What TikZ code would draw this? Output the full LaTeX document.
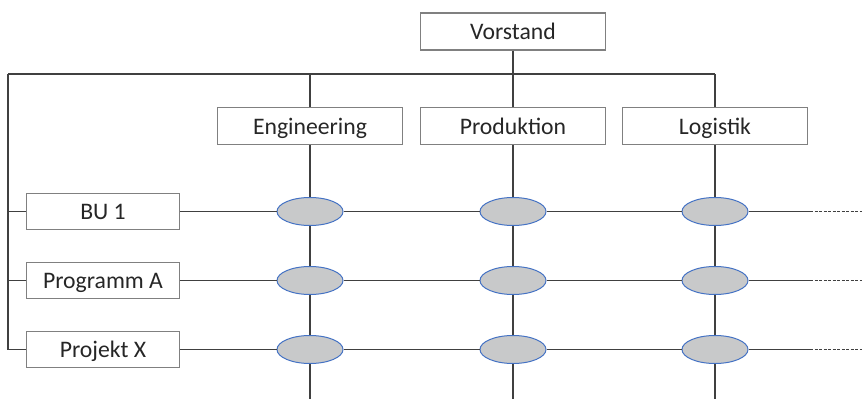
\documentclass[tikz,border=0pt]{standalone}
\usepackage{fontspec}
\setmainfont{Carlito}
\usetikzlibrary{positioning, shapes.geometric}
\definecolor{boxgray}{HTML}{808080}
\definecolor{linegray}{HTML}{404040}
\definecolor{cellfill}{HTML}{C8C9CA}
\definecolor{cellblue}{HTML}{4472C4}
\tikzset{
	x=1pt, y=-1pt, % pixel-like units, y grows downwards
	unit/.style={draw=boxgray, line width=1.2pt, minimum width=185pt, minimum height=37pt, inner sep=0pt, text height=20pt, text depth=4pt, text=black!85, font=\fontsize{23.7}{28}\selectfont}, % boxes of the line organisation
	proj/.style={unit, minimum width=153pt, minimum height=36pt}, % boxes of the project side
	cell/.style={ellipse, draw=cellblue, line width=1pt, fill=cellfill, minimum width=66pt, minimum height=28pt, inner sep=0pt}, % crossing points
	link/.style={draw=linegray, line width=1.5pt}, % connectors
}

\begin{document}
\begin{tikzpicture}[node distance=203pt, on grid]
		\useasboundingbox (0,0) rectangle (862,399);
		% Top of the organisation
		\node[unit] (vorstand) at (513,31.5) {Vorstand};
		\node[unit, below=94.5pt of vorstand] (prod) {Produktion};
		\node[unit, left=of prod] (eng) {Engineering};
		\node[unit, right=202pt of prod] (log) {Logistik};
		
		% Projects
		\node[proj] (bu) at (103,211.5) {BU 1};
		\node[proj, below=69pt of bu] (prog) {Programm A};
		\node[proj, below=69pt of prog] (projx) {Projekt X};
		
		% Crossing points
		\foreach \r in {bu, prog, projx}
		\foreach \c in {eng, prod, log}
		\node[cell] (\r-\c) at (\c |- \r) {};
		
		\coordinate (busl) at (8,74);
		\coordinate (busr) at (log |- busl);
		\coordinate (busb) at (busl |- projx);
		
		% Connectors
		\path[link] (vorstand.south) -- (vorstand |- busl);
		\path[link] (busl) -- (busr);
		\path[link] (busl) -- (busb);
		\foreach \c in {eng, prod, log} {
			\path[link] (\c |- busl) -- (\c.north);
			\path[link] (\c.south) -- (bu-\c.north);
			\path[link] (bu-\c.south) -- (prog-\c.north);
			\path[link] (prog-\c.south) -- (projx-\c.north);
			\path[link] (projx-\c.south) -- (\c |- 0,399);
		}
		\foreach \r in {bu, prog, projx} {
			\coordinate (\r-end) at (810,0 |- \r);
			\path[link] (busl |- \r) -- (\r.west);
			\path[link] (\r.east) -- (\r-eng.west);
			\path[link] (\r-eng.east) -- (\r-prod.west);
			\path[link] (\r-prod.east) -- (\r-log.west);
			\path[link] (\r-log.east) -- (\r-end);
			\path[link, dash pattern=on 3pt off 1.5pt] (\r-end) -- (862,0 |- \r);
		}
	\end{tikzpicture}
\end{document}
